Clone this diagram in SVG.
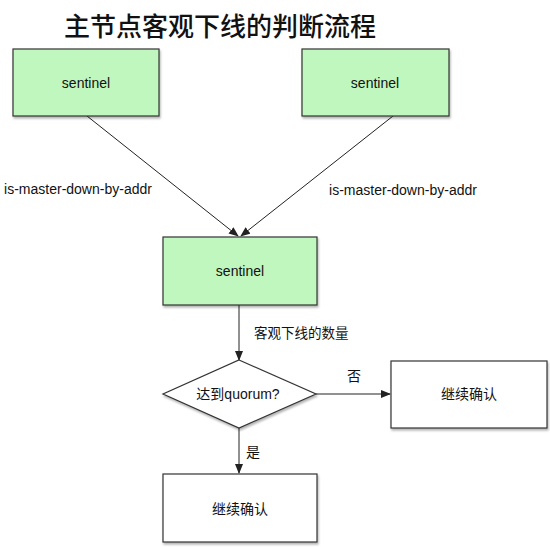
<svg xmlns="http://www.w3.org/2000/svg" width="550" height="547" viewBox="0 0 550 547">
<defs>
<marker id="arr" markerWidth="10" markerHeight="8" refX="9" refY="4" orient="auto" markerUnits="userSpaceOnUse">
<path d="M0,0 L10,4 L0,8 Z" fill="#222"/>
</marker>
<filter id="sh" x="-5%" y="-5%" width="115%" height="120%">
<feDropShadow dx="1" dy="2" stdDeviation="1" flood-color="#000" flood-opacity="0.3"/>
</filter>
</defs>
<style>
.g{fill:#c0f7be;stroke:#333;stroke-width:1.2;filter:url(#sh)}
.w{fill:#fff;stroke:#333;stroke-width:1.2;filter:url(#sh)}
.t{font-family:"Liberation Sans","Noto Sans CJK SC",sans-serif;font-size:14px;fill:#111;text-anchor:middle;dominant-baseline:central}
.c{stroke:#222;stroke-width:1;fill:none;marker-end:url(#arr)}
</style>
<rect width="550" height="547" fill="#fff"/>
<text x="220" y="24" font-family="'Noto Sans CJK SC',sans-serif" font-size="26" font-weight="500" fill="#111" text-anchor="middle" dominant-baseline="central">主节点客观下线的判断流程</text>
<g id="connectors">
<line class="c" x1="87" y1="116" x2="238" y2="236"/>
<line class="c" x1="393" y1="116" x2="241" y2="236"/>
<line class="c" x1="239" y1="305" x2="239" y2="360"/>
<line class="c" x1="316" y1="394" x2="390" y2="394"/>
<line class="c" x1="239" y1="428" x2="239" y2="473"/>
<text class="t" x="78" y="189">is-master-down-by-addr</text>
<text class="t" x="403" y="190">is-master-down-by-addr</text>
<text class="t" x="254" y="333" style="text-anchor:start;font-size:13.5px">客观下线的数量</text>
<text class="t" x="354" y="376">否</text>
<text class="t" x="253" y="452">是</text>
</g>
<g id="s1"><rect class="g" x="13" y="49" width="146" height="67"/><text class="t" x="86" y="83">sentinel</text></g>
<g id="s2"><rect class="g" x="302" y="49" width="147" height="67"/><text class="t" x="375" y="83">sentinel</text></g>
<g id="s3"><rect class="g" x="163" y="237" width="154" height="68"/><text class="t" x="240" y="271">sentinel</text></g>
<g id="d"><polygon class="w" points="239,360 316,394 239,428 163,394"/><text class="t" x="238" y="394">达到quorum?</text></g>
<g id="r"><rect class="w" x="391" y="361" width="156" height="67"/><text class="t" x="469" y="394">继续确认</text></g>
<g id="b"><rect class="w" x="163" y="474" width="154" height="68"/><text class="t" x="240" y="509">继续确认</text></g>
</svg>
